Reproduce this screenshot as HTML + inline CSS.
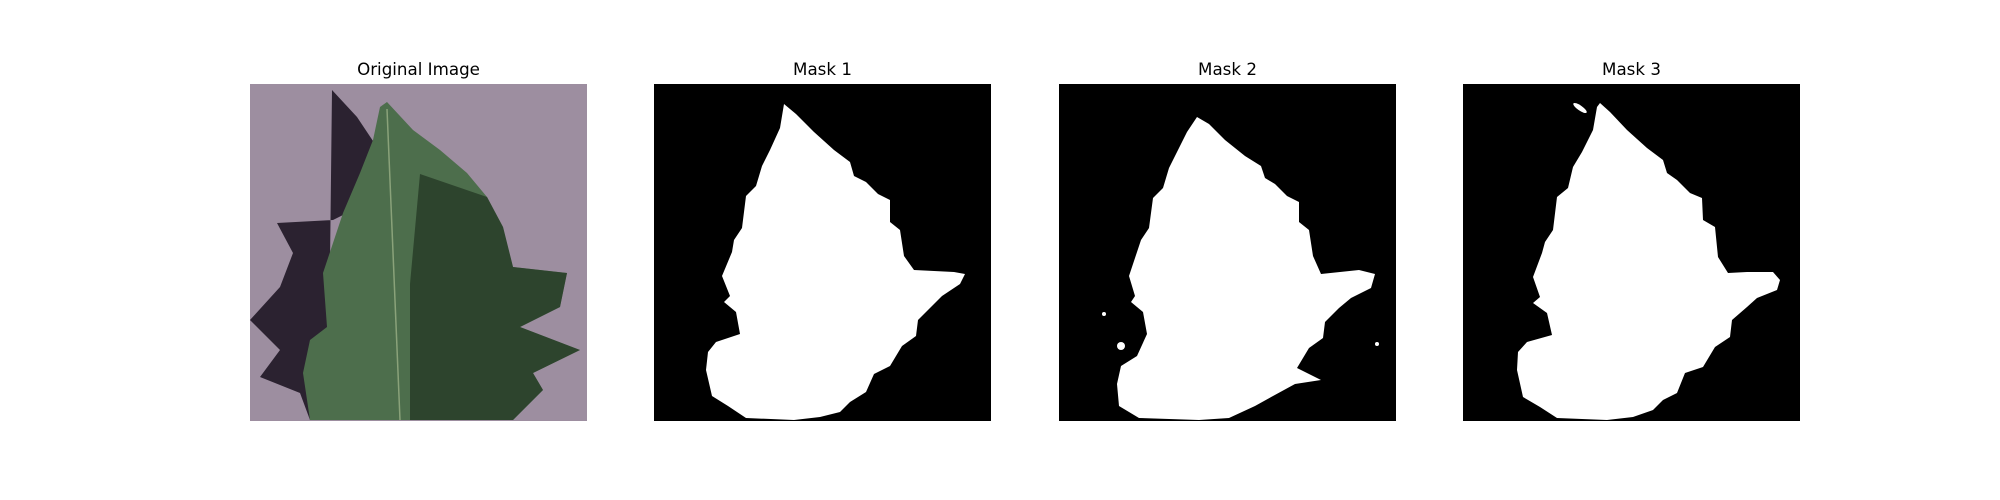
<!DOCTYPE html>
<html><head><meta charset="utf-8"><style>
html,body{margin:0;padding:0;background:#fff;}
#fig{position:relative;width:2000px;height:500px;overflow:hidden;}
.t{position:absolute;top:59px;width:337px;text-align:center;font-family:"DejaVu Sans","Liberation Sans",sans-serif;font-size:16.7px;color:#000;}
svg{position:absolute;top:84px;}
</style></head><body>
<div id="fig">
<div class="t" style="left:250px">Original Image</div>
<div class="t" style="left:654px">Mask 1</div>
<div class="t" style="left:1059px">Mask 2</div>
<div class="t" style="left:1463px">Mask 3</div>

<svg style="left:250px" width="337" height="337">
<rect width="337" height="337" fill="#9d8ea0"/>
<polygon fill="#2b2230" points="82,6 107,33 125,60 110,100 95,130 83,136 27,139 43,169 30,203 0,236 30,266 10,293 50,309 60,336 90,336 90,250 80,180"/>
<polygon fill="#4d6e4c" points="137,18 163,46 190,66 217,89 237,113 253,143 263,183 317,189 310,223 270,243 330,266 283,289 293,306 263,336 60,336 53,289 60,256 77,243 73,189 83,159 93,129 110,89 123,56 130,23"/>
<polygon fill="#253a26" opacity="0.8" points="170,90 237,113 253,143 263,183 317,189 310,223 270,243 330,266 283,289 293,306 263,336 160,336 160,200"/>
<line x1="137" y1="25" x2="150" y2="336" stroke="#8aa27a" stroke-width="1.5"/>
</svg>

<svg style="left:654px" width="337" height="337">
<rect width="337" height="337" fill="#000"/>
<polygon fill="#fff" points="130,20 142,30 160,48 180,66 196,78 200,92 212,98 224,110 236,116 236,138 246,146 250,172 260,186 300,188 311,190 306,200 288,212 278,222 264,236 262,252 248,262 236,282 220,290 212,308 196,318 186,328 166,333 140,336 92,334 74,322 58,312 52,286 54,268 62,258 86,250 82,228 70,218 76,212 68,192 78,168 80,156 88,144 92,112 102,102 108,82 116,66 126,44"/>
</svg>

<svg style="left:1059px" width="337" height="337">
<rect width="337" height="337" fill="#000"/>
<polygon fill="#fff" points="138,33 150,40 166,56 186,72 202,82 206,94 216,100 228,112 240,118 240,138 250,146 254,172 262,190 300,186 316,190 312,204 292,214 280,224 266,238 264,254 250,264 238,284 262,296 236,300 214,312 196,322 170,334 140,336 80,334 60,322 58,300 62,282 78,272 88,250 84,228 72,218 76,212 70,192 78,168 82,156 90,144 94,114 104,104 110,84 118,68 128,48"/>
<circle cx="62" cy="262" r="4" fill="#fff"/>
<circle cx="45" cy="230" r="2" fill="#fff"/>
<circle cx="318" cy="260" r="2" fill="#fff"/>
</svg>

<svg style="left:1463px" width="337" height="337">
<rect width="337" height="337" fill="#000"/>
<polygon fill="#fff" points="137,19 147,28 164,46 184,64 200,76 204,89 214,96 227,109 239,114 240,136 252,143 255,173 265,189 284,188 310,188 317,196 314,206 294,214 284,223 269,236 267,253 252,263 240,283 222,289 214,309 200,316 190,326 170,333 144,336 94,334 77,323 60,313 54,286 55,268 64,258 89,251 84,229 70,219 77,213 70,193 79,169 82,158 90,146 94,113 105,104 110,83 119,68 130,46 134,23"/>
<ellipse cx="117" cy="24" rx="8" ry="2.5" transform="rotate(35 117 24)" fill="#fff"/>
</svg>
</div>
<script>
const panelTitles = ["Original Image","Mask 1","Mask 2","Mask 3"];
</script>
</body></html>
